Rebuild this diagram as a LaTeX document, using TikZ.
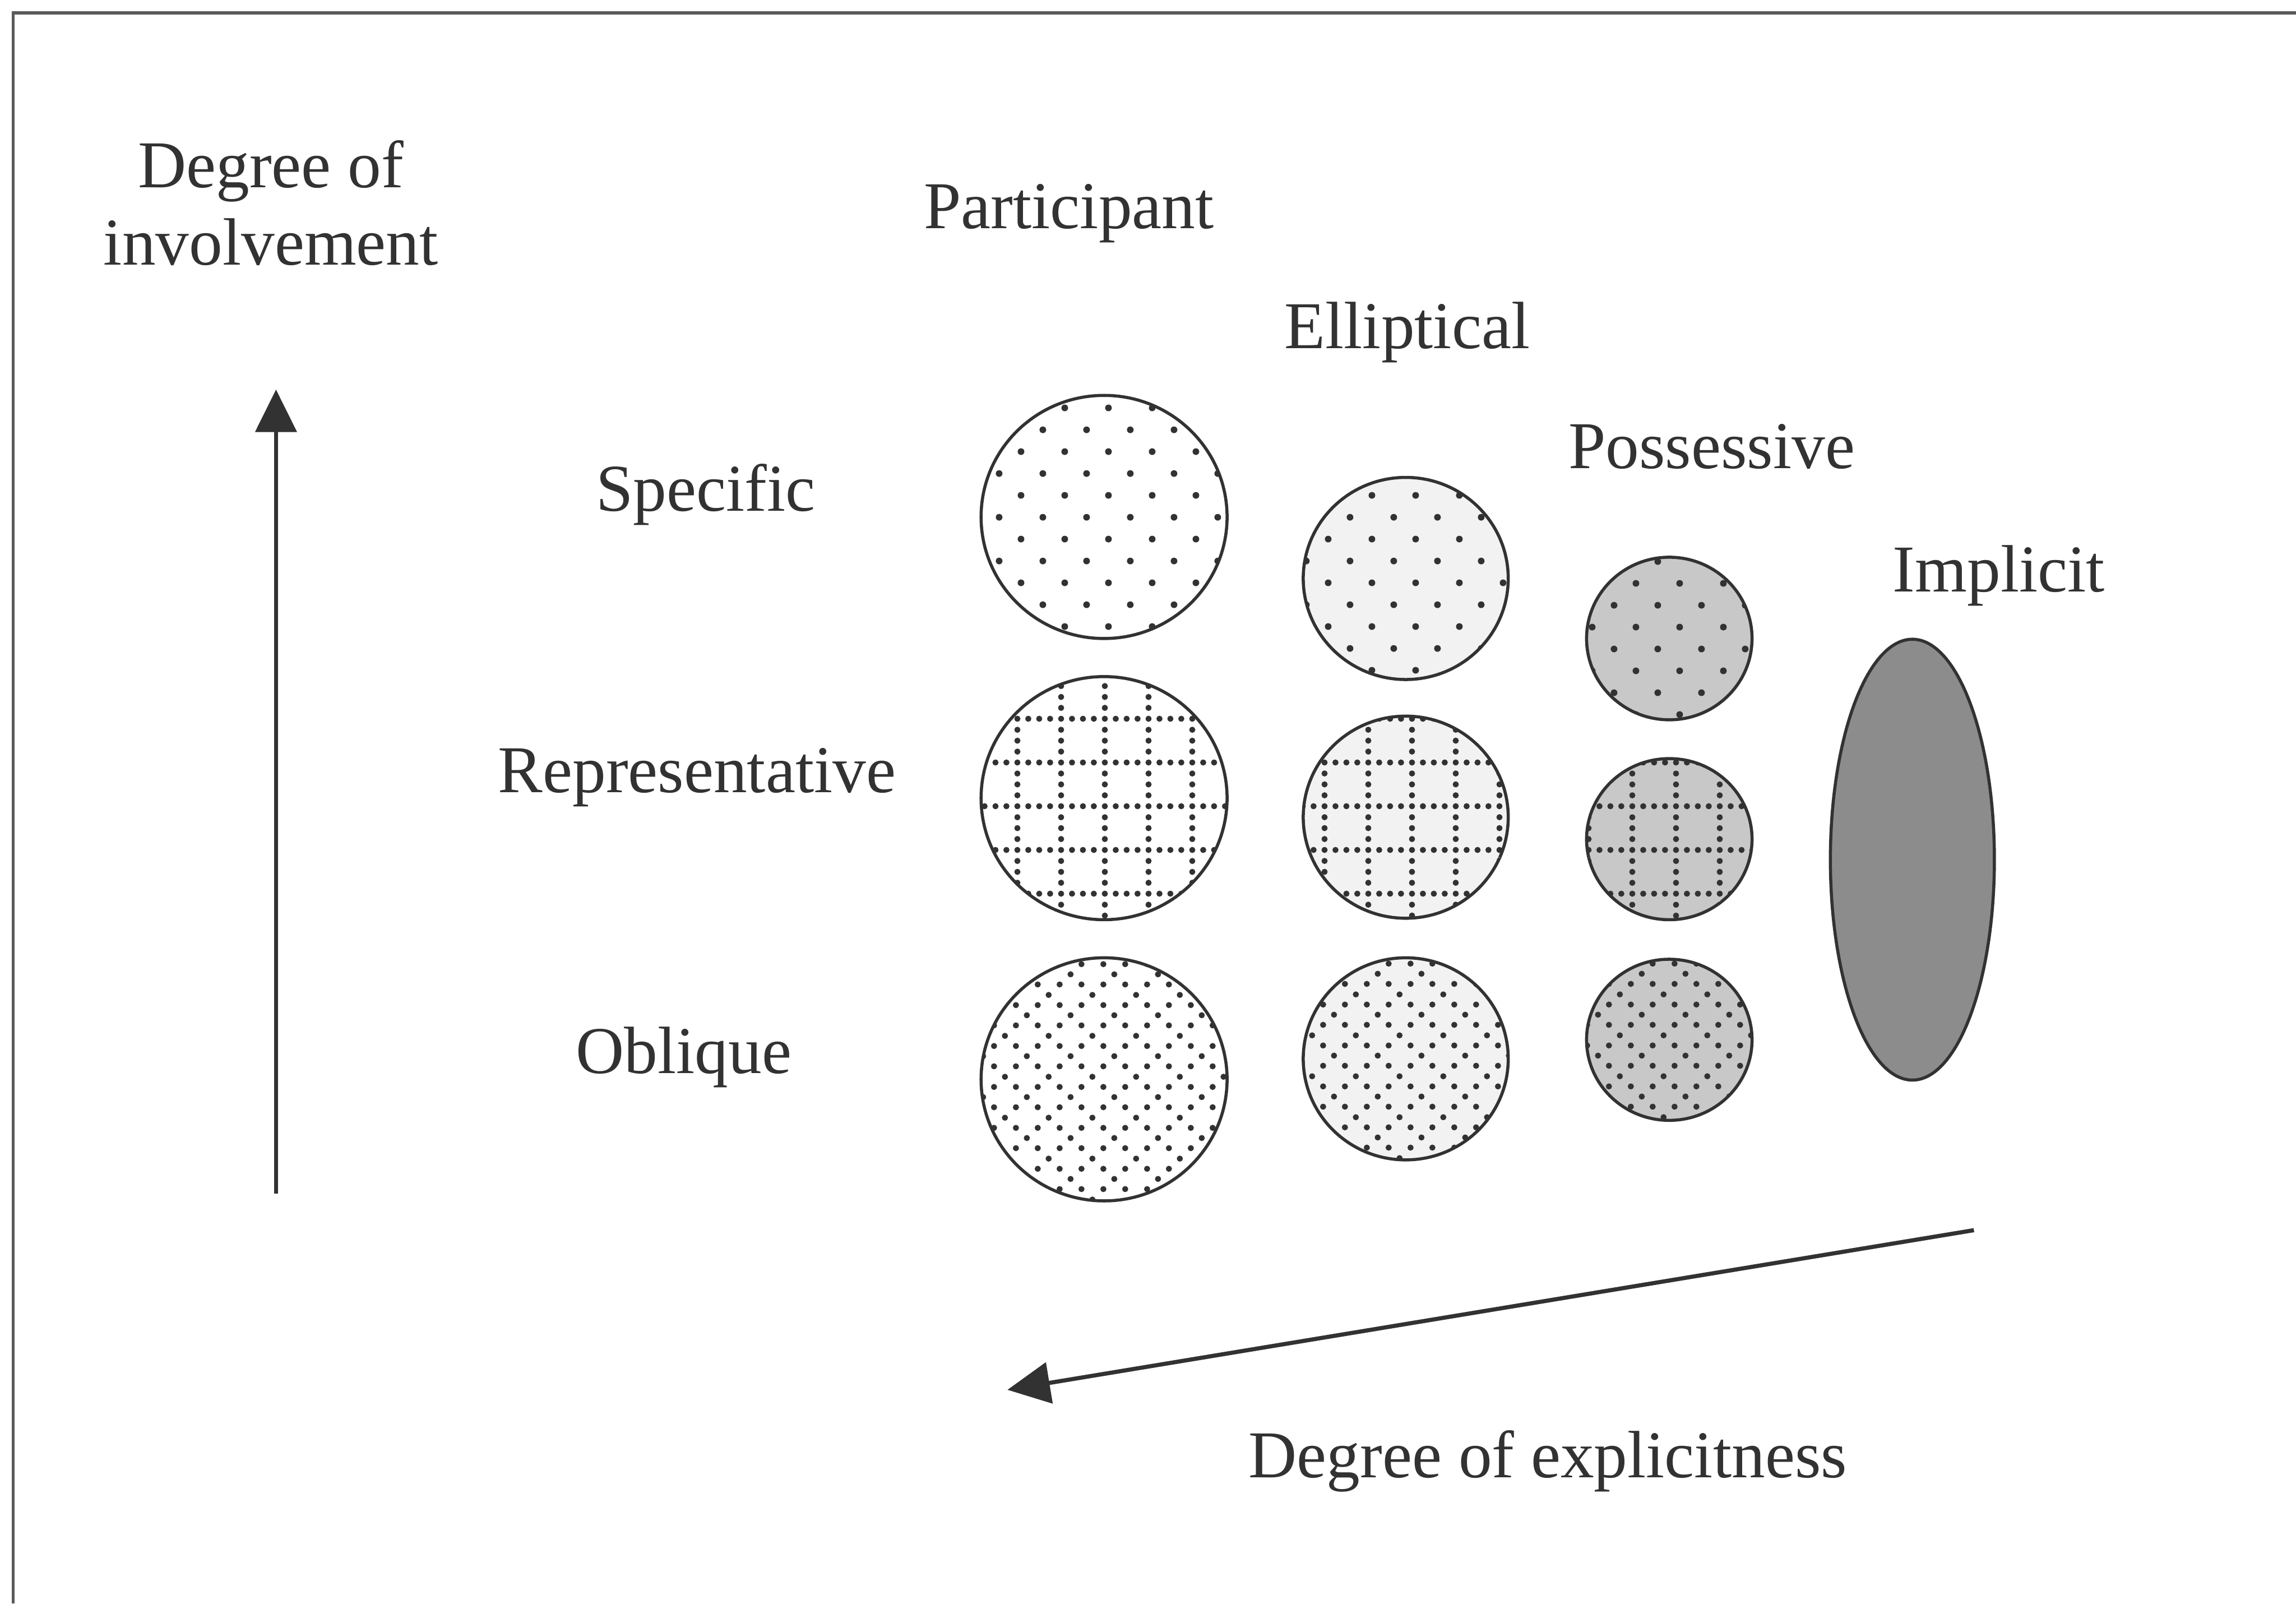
\documentclass[tikz,border=0pt]{standalone}
\usepackage{fontspec}
\setmainfont{Liberation Serif}
\usetikzlibrary{arrows.meta,positioning,shapes.geometric,patterns.meta}
\definecolor{inkgray}{RGB}{50,50,50}
\definecolor{dotgray}{RGB}{50,50,50}
\definecolor{framegray}{RGB}{90,90,90}
\definecolor{blobpale}{RGB}{242,242,242}
\definecolor{blobmid}{RGB}{200,200,200}
\definecolor{blobdark}{RGB}{140,140,140}

% fill patterns of the three rows
\tikzdeclarepattern{
  name=sparsedots,
  type=uncolored,
  bounding box={(0cm,0cm) and (0.3cm,0.3cm)},
  tile size={(0.3cm,0.3cm)},
  code={
    \fill (0.075cm,0.075cm) circle (0.023cm);
    \fill (0.225cm,0.225cm) circle (0.023cm);
  }
}
\tikzdeclarepattern{
  name=dottedgrid,
  type=uncolored,
  bounding box={(0cm,0cm) and (0.3cm,0.3cm)},
  tile size={(0.3cm,0.3cm)},
  code={
    \foreach \k in {0,1,2,3} {\fill (0.05cm+\k*0.075cm,0.05cm) circle (0.021cm);}
    \foreach \k in {1,2,3} {\fill (0.05cm,0.05cm+\k*0.075cm) circle (0.021cm);}
  }
}
\tikzdeclarepattern{
  name=densedots,
  type=uncolored,
  bounding box={(0cm,0cm) and (0.3cm,0.28cm)},
  tile size={(0.3cm,0.28cm)},
  code={
    \fill (0.04cm,0.035cm) circle (0.021cm);
    \fill (0.19cm,0.035cm) circle (0.021cm);
    \fill (0.04cm,0.175cm) circle (0.021cm);
    \fill (0.19cm,0.175cm) circle (0.021cm);
    \fill (0.115cm,0.105cm) circle (0.021cm);
    \fill (0.265cm,0.245cm) circle (0.021cm);
  }
}

\begin{document}
\begin{tikzpicture}[>=Latex,
  every node/.style={font=\fontsize{13}{15.1}\selectfont,inner sep=0pt},
  lbl/.style={anchor=base,text=inkgray},
  blob/.style={ellipse,draw=inkgray,line width=0.6pt},
  specific/.style={postaction={pattern=sparsedots,pattern color=dotgray}},
  representative/.style={postaction={pattern=dottedgrid,pattern color=dotgray}},
  oblique/.style={postaction={pattern=densedots,pattern color=dotgray}},
  axis/.style={draw=inkgray,line width=0.8pt,-{Triangle[length=2.9mm,width=2.8mm]}}]
  \useasboundingbox (0,0) rectangle (15.68,10.95);
  \fill[white] (0,0) rectangle (15.68,10.95);
  \draw[framegray,line width=0.65pt] (15.68,10.86) -- (0.09,10.86) -- (0.09,0);

  % axis labels
  \node[lbl,align=center] (involve) at (1.85,9.14) {Degree of\\involvement};
  \node[lbl] (explicit) at (10.57,0.86) {Degree of explicitness};

  % column and row labels
  \node[lbl] (participant) at (7.30,9.39) {Participant};
  \node[lbl] (elliptical) at (9.61,8.57) {Elliptical};
  \node[lbl] (possessive) at (11.69,7.75) {Possessive};
  \node[lbl] (implicit) at (13.65,6.91) {Implicit};
  \node[lbl] (specific) at (4.82,7.46) {Specific};
  \node[lbl] (representative) at (4.76,5.54) {Representative};
  \node[lbl] (oblique) at (4.67,3.62) {Oblique};

  % participant column
  \node[blob,specific,fill=white,minimum width=1.68cm,minimum height=1.66cm] (partspec) at (7.54,7.42) {};
  \node[blob,representative,fill=white,minimum width=1.68cm,minimum height=1.66cm] (partrep) at (7.54,5.50) {};
  \node[blob,oblique,fill=white,minimum width=1.68cm,minimum height=1.66cm] (partobl) at (7.54,3.58) {};
  % elliptical column
  \node[blob,specific,fill=blobpale,minimum width=1.40cm,minimum height=1.38cm] (ellspec) at (9.60,7.00) {};
  \node[blob,representative,fill=blobpale,minimum width=1.40cm,minimum height=1.38cm] (ellrep) at (9.60,5.37) {};
  \node[blob,oblique,fill=blobpale,minimum width=1.40cm,minimum height=1.38cm] (ellobl) at (9.60,3.72) {};
  % possessive column
  \node[blob,specific,fill=blobmid,minimum width=1.13cm,minimum height=1.11cm] (posspec) at (11.40,6.59) {};
  \node[blob,representative,fill=blobmid,minimum width=1.13cm,minimum height=1.10cm] (posrep) at (11.40,5.22) {};
  \node[blob,oblique,fill=blobmid,minimum width=1.13cm,minimum height=1.10cm] (posobl) at (11.40,3.85) {};
  % implicit
  \node[blob,fill=blobdark,minimum width=1.12cm,minimum height=3.01cm] (impl) at (13.06,5.08) {};

  % arrows
  \coordinate (invfrom) at (1.885,2.80);
  \coordinate (invto) at (1.885,8.29);
  \coordinate (expfrom) at (13.48,2.55);
  \coordinate (expto) at (6.88,1.46);
  \draw[axis] (invfrom) -- (invto);
  \draw[axis] (expfrom) -- (expto);
\end{tikzpicture}
\end{document}
